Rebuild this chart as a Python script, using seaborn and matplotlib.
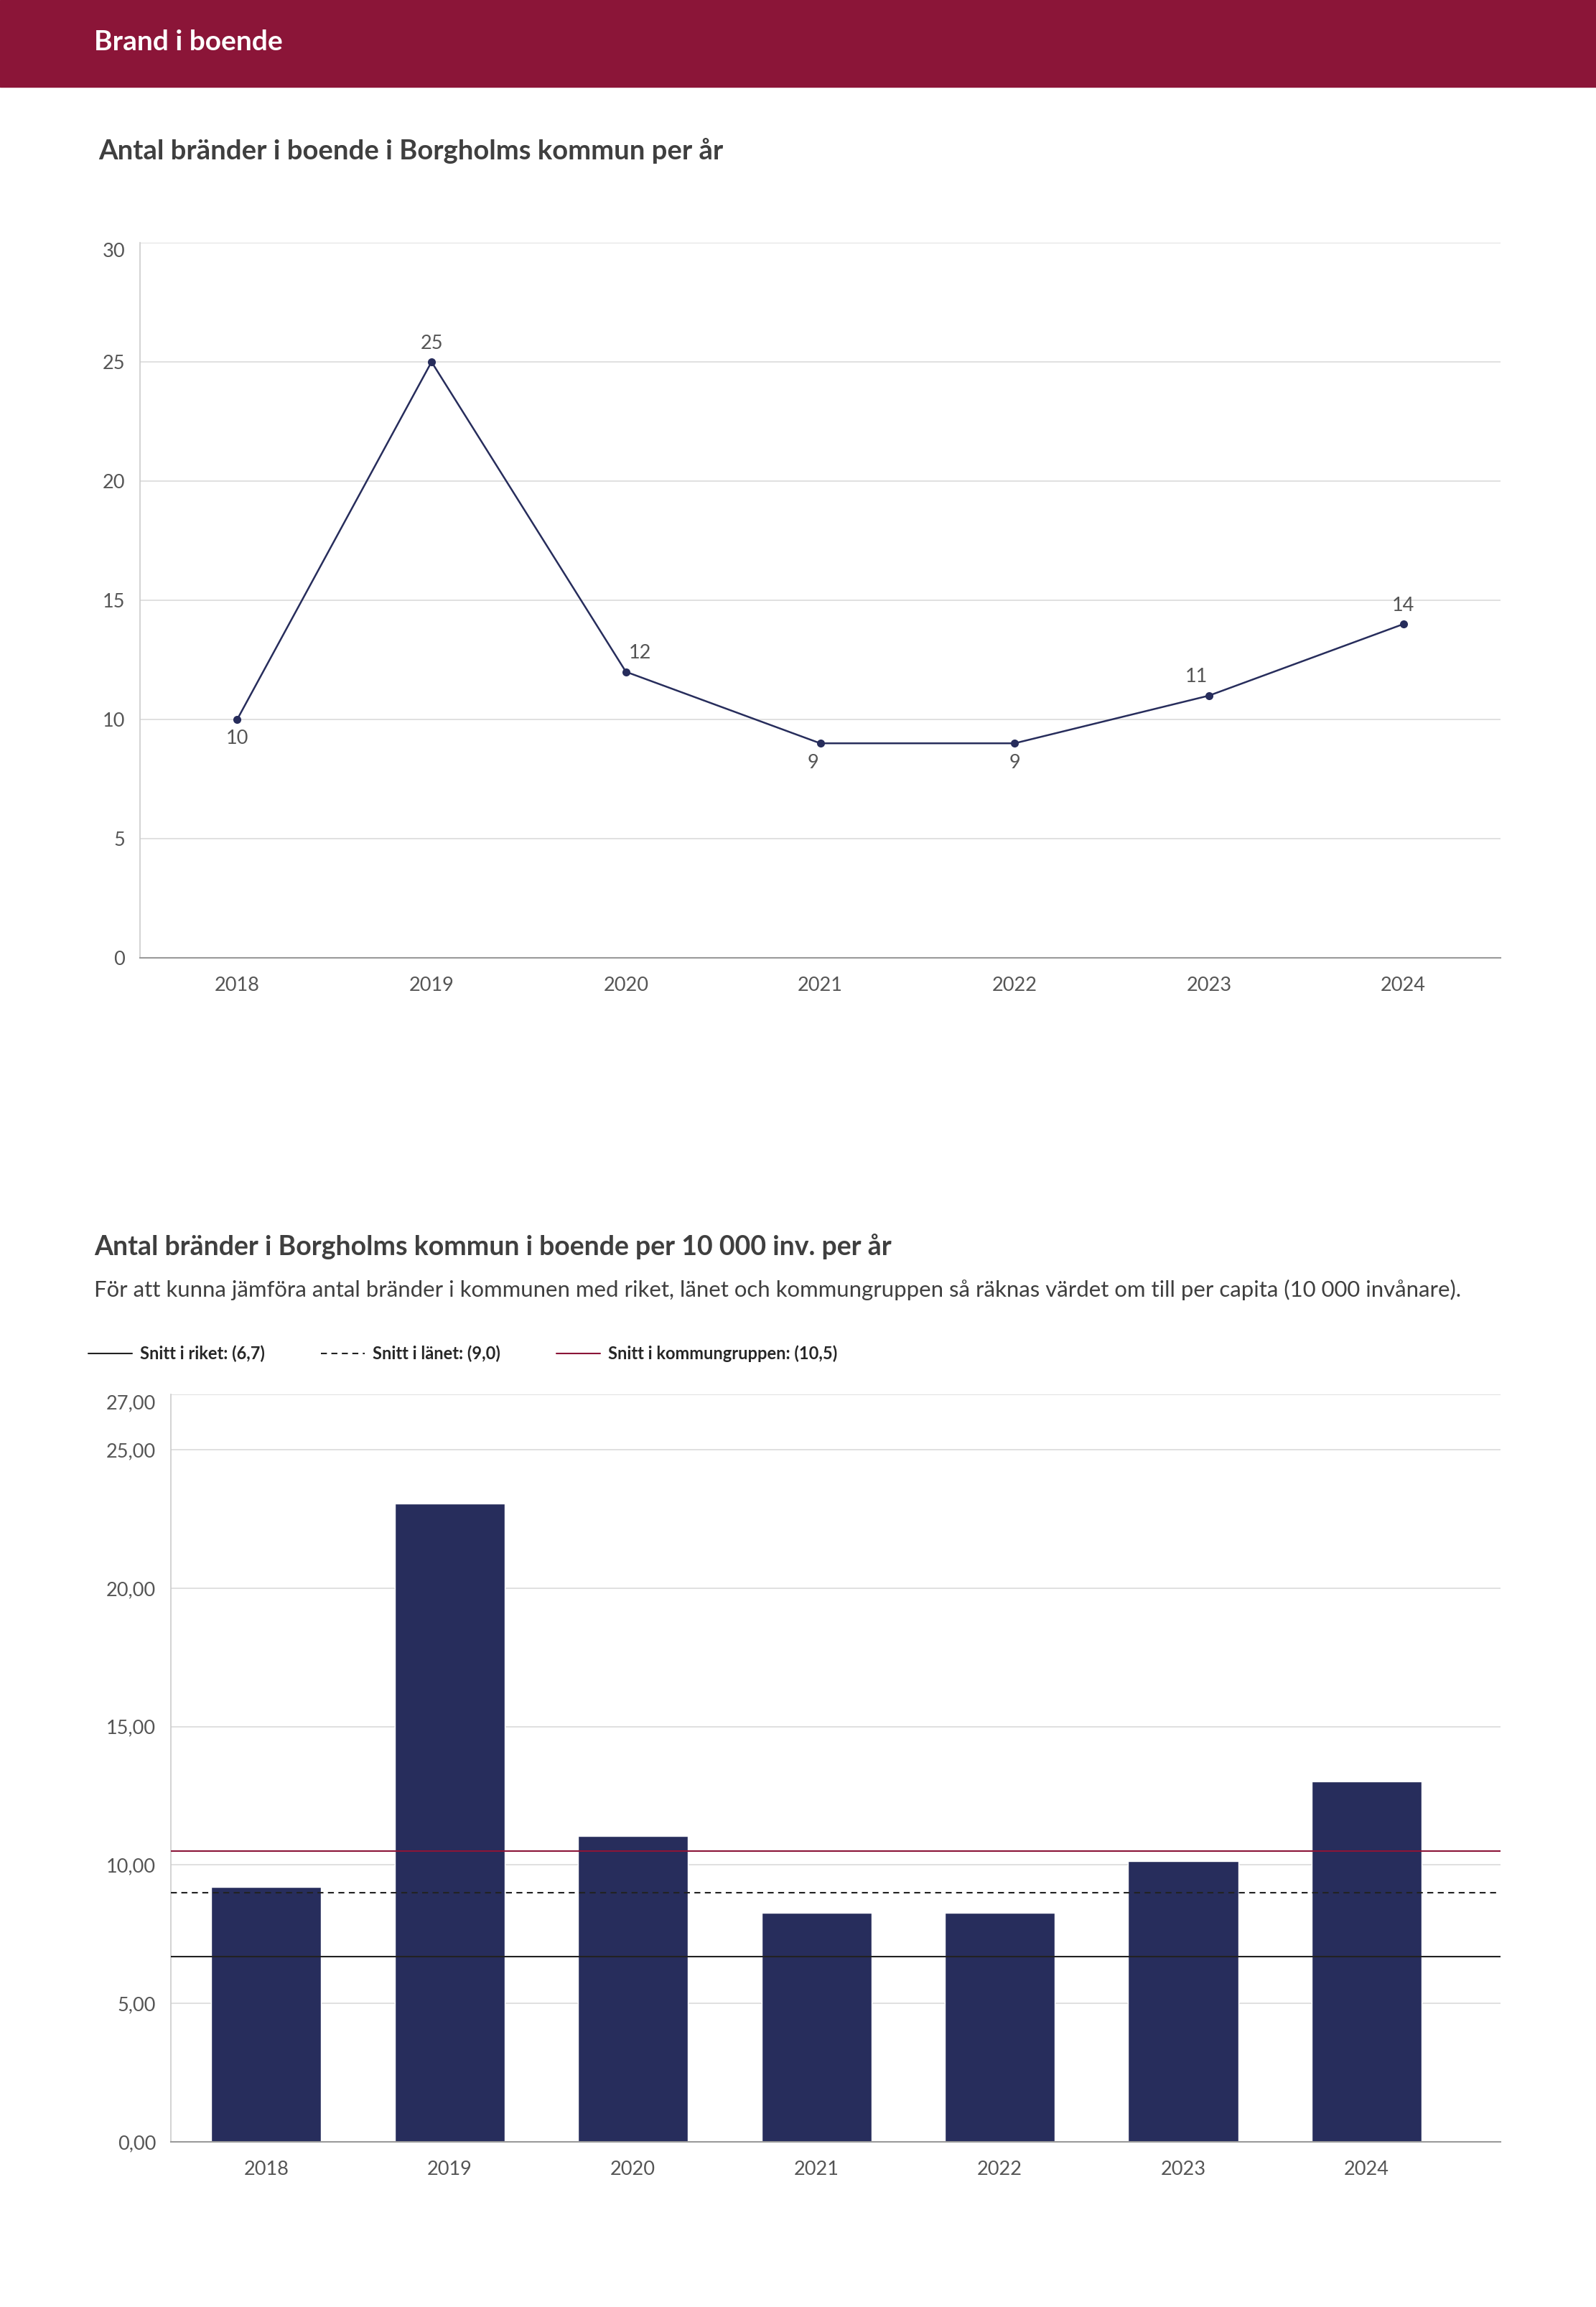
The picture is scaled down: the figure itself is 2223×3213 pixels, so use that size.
import matplotlib.pyplot as plt
import matplotlib.patches as patches
from matplotlib.ticker import FuncFormatter
import pandas as pd
import seaborn as sns

years = [2018, 2019, 2020, 2021, 2022, 2023, 2024]
fires = [10, 25, 12, 9, 9, 11, 14]
fires_per_10k = [9.22, 23.05, 11.06, 8.28, 8.28, 10.15, 13.02]
avg_names = ["Snitt i riket", "Snitt i länet", "Snitt i kommungruppen"]
avg_values = [6.7, 9.0, 10.5]
y1_ticks = [0, 5, 10, 15, 20, 25, 30]
y2_ticks = [0, 5, 10, 15, 20, 25, 27]

HEADER = "Brand i boende"
TITLE_1 = "Antal bränder i boende i Borgholms kommun per år"
TITLE_2 = "Antal bränder i Borgholms kommun i boende per 10 000 inv. per år"
SUBTITLE_2 = ("För att kunna jämföra antal bränder i kommunen med riket, länet och "
              "kommungruppen så räknas värdet om till per capita (10 000 invånare).")

CRIMSON = "#8b1538"
NAVY = "#272d5c"
TEXT = "#3f3f3f"
TICK = "#555555"
GRID = "#dadada"

sns.set_style("white")
plt.rcParams["font.family"] = ["Lato", "DejaVu Sans"]

W, H = 2223, 3213
fig = plt.figure(figsize=(W / 100, H / 100), dpi=100)


def fx(px):
    return px / W


def fy(px):
    return 1 - px / H


# Header band
fig.patches.append(patches.Rectangle((0, fy(121)), 1, 121 / H, transform=fig.transFigure,
                                     color=CRIMSON, zorder=0))
fig.text(fx(131), fy(59), HEADER, color="white", fontsize=28, fontweight="bold", va="center")

fig.text(fx(137), fy(210), TITLE_1, color=TEXT, fontsize=27.5, fontweight="bold", va="center")
fig.text(fx(131), fy(1736), TITLE_2, color=TEXT, fontsize=27, fontweight="bold", va="center")
fig.text(fx(131), fy(1796), SUBTITLE_2, color=TEXT, fontsize=22.4, va="center")


def style_axis(ax, ticks, xpad):
    ax.set_yticks(ticks)
    ax.grid(axis="y", color=GRID, linewidth=1.2)
    ax.grid(axis="x", visible=False)
    for s in ["top", "right"]:
        ax.spines[s].set_visible(False)
    ax.spines["left"].set_color("#cccccc")
    ax.spines["left"].set_linewidth(1.2)
    ax.spines["bottom"].set_color("#9a9a9a")
    ax.spines["bottom"].set_linewidth(1.5)
    ax.tick_params(axis="y", length=7, color="#cccccc", labelsize=19.5, labelcolor=TICK, pad=8)
    ax.tick_params(axis="x", length=0, labelsize=19.5, labelcolor=TICK, pad=xpad)
    ax.set_xlabel("")
    ax.set_ylabel("")
    ax.set_axisbelow(True)


# Chart 1: line chart of fires per year
df1 = pd.DataFrame({"Year": years, "Fires": fires})
ax1 = fig.add_axes([fx(195), fy(1334), fx(2090) - fx(195), fy(338) - fy(1334)])
sns.lineplot(data=df1, x="Year", y="Fires", ax=ax1, color=NAVY, linewidth=1.8,
             marker="o", markersize=8, markeredgewidth=0)
ax1.set_xlim(years[0] - 0.5, years[-1] + 0.5)
ax1.set_ylim(0, 30)
ax1.set_xticks(years)
style_axis(ax1, y1_ticks, 19)
ax1.get_yticklabels()[-1].set_va("top")

label_offsets = [(0, -27), (0, 26), (20, 26), (-10, -27), (0, -27), (-18, 26), (0, 26)]
for yr, val, off in zip(years, fires, label_offsets):
    ax1.annotate(str(val), (yr, val), xytext=off, textcoords="offset pixels",
                 ha="center", va="center", fontsize=19.5, color=TICK)

# Chart 2: bars per 10 000 inhabitants with reference lines
df2 = pd.DataFrame({"Year": [str(y) for y in years], "Rate": fires_per_10k})
ax2 = fig.add_axes([fx(238), fy(2983), fx(2090) - fx(238), fy(1942) - fy(2983)])
sns.barplot(data=df2, x="Year", y="Rate", ax=ax2, color=NAVY, width=0.6, saturation=1)
ax2.set_xlim(-0.52, 6.73)
ax2.set_ylim(0, 27)
style_axis(ax2, y2_ticks, 19)
ax2.yaxis.set_major_formatter(FuncFormatter(lambda v, p: f"{v:.2f}".replace(".", ",")))
ax2.get_yticklabels()[-1].set_va("top")

line_styles = [dict(color="#222222", linestyle="-"),
               dict(color="#222222", linestyle=(0, (4, 3))),
               dict(color=CRIMSON, linestyle="-")]
for name, val, st in zip(avg_names, avg_values, line_styles):
    ax2.axhline(val, linewidth=1.5, label=f"{name}: ({val:.1f})".replace(".", ","), zorder=3, **st)

handles, labels = ax2.get_legend_handles_labels()
fig.legend(handles, labels, loc="center left", bbox_to_anchor=(fx(123), fy(1885)), ncol=3,
           frameon=False, borderpad=0, borderaxespad=0,
           handlelength=2.6, handletextpad=0.45, columnspacing=3.3,
           prop={"size": 17, "weight": "bold"})

fig.savefig("out.png", dpi=100)
